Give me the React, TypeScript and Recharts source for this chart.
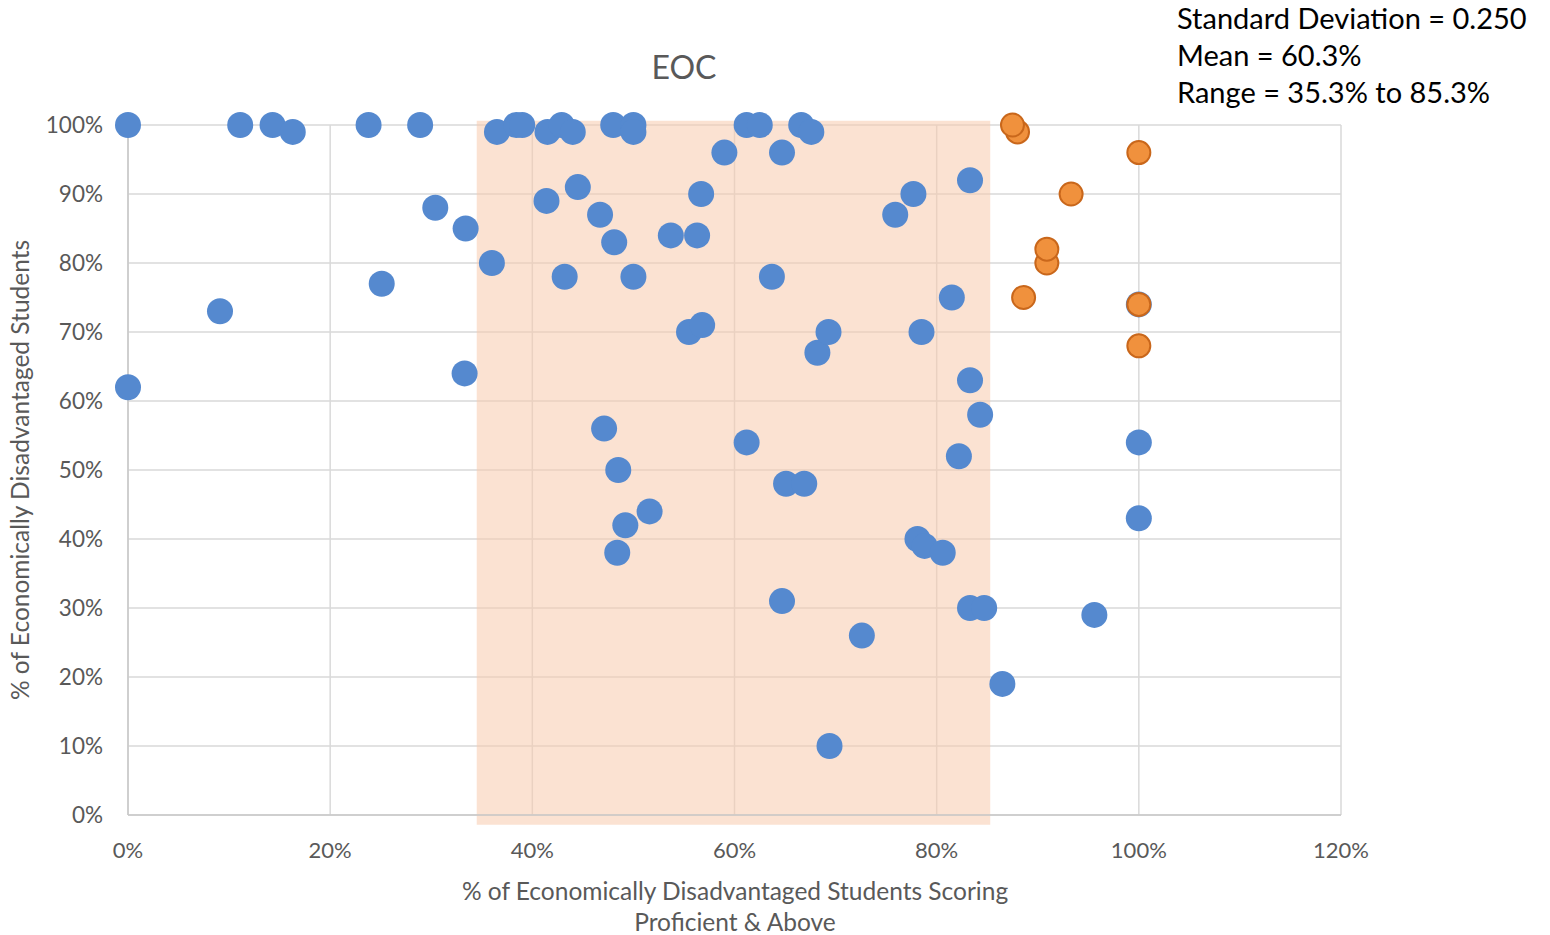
import React from "react";
import {
  CartesianGrid,
  ReferenceArea,
  Scatter,
  ScatterChart,
  XAxis,
  YAxis
} from "recharts";

// % of econ. disadvantaged students scoring proficient & above (x) vs % econ. disadvantaged (y)
const blueProficient = [
  0, 0, 9.1, 11.1, 14.3, 16.3, 23.8, 25.1, 28.9, 30.4, 33.4, 33.3, 36.0, 36.5, 38.4, 39.0,
  41.4, 41.5, 42.9, 43.2, 44.0, 44.5, 46.7, 47.1, 48.0, 48.1, 48.5, 48.4, 49.2, 50.0, 50.0,
  50.0, 51.6, 53.7, 55.5, 56.3, 56.8, 56.7, 59.0, 61.2, 61.2, 62.5, 63.7, 64.7, 64.7, 65.1,
  66.9, 66.6, 67.6, 68.2, 69.3, 69.4, 72.6, 75.9, 77.7, 78.1, 78.5, 78.8, 80.6, 81.5, 82.2,
  83.3, 83.3, 83.3, 84.3, 84.7, 86.5, 95.6, 100, 100, 100
];
const blueDisadvantaged = [
  100, 62, 73, 100, 100, 99, 100, 77, 100, 88, 85, 64, 80, 99, 100, 100,
  89, 99, 100, 78, 99, 91, 87, 56, 100, 83, 50, 38, 42, 100, 99,
  78, 44, 84, 70, 84, 71, 90, 96, 100, 54, 100, 78, 96, 31, 48,
  48, 100, 99, 67, 70, 10, 26, 87, 90, 40, 70, 39, 38, 75, 52,
  92, 63, 30, 58, 30, 19, 29, 74, 54, 43
];

const orangeProficient = [88.0, 87.5, 88.6, 90.9, 90.9, 93.3, 100, 100, 100];
const orangeDisadvantaged = [99, 100, 75, 80, 82, 90, 96, 74, 68];

const xTicks = [0, 20, 40, 60, 80, 100, 120];
const yTicks = [0, 10, 20, 30, 40, 50, 60, 70, 80, 90, 100];

const statLines = ["Standard Deviation = 0.250", "Mean = 60.3%", "Range = 35.3% to 85.3%"];

const blueData = blueProficient.map((x, i) => ({ x, y: blueDisadvantaged[i] }));
const orangeData = orangeProficient.map((x, i) => ({ x, y: orangeDisadvantaged[i] }));

const FONT = "Lato, 'Open Sans', sans-serif";
const GREY = "#595959";

const BlueDot = (props: any) => (
  <circle cx={props.cx} cy={props.cy} r={13} fill="#5589cf" />
);
const OrangeDot = (props: any) => (
  <circle cx={props.cx} cy={props.cy} r={11.5} fill="#f0913d" stroke="#c9671b" strokeWidth={2} />
);

export default function App() {
  return (
    <div style={{ position: "absolute", left: 0, top: 0, width: 1550, height: 935, fontFamily: FONT }}>
      <ScatterChart width={1550} height={935} margin={{ top: 125, right: 209, bottom: 0, left: 0 }}>
        <ReferenceArea
          x1={34.5}
          x2={85.3}
          y1={-1.4}
          y2={100.6}
          ifOverflow="visible"
          fill="#f8cbad"
          fillOpacity={0.55}
          stroke="none"
        />
        <CartesianGrid stroke="#d9d9d9" strokeWidth={1.5} />
        <XAxis
          type="number"
          dataKey="x"
          domain={[0, 120]}
          ticks={xTicks}
          tickFormatter={(v) => `${v}%`}
          tickLine={false}
          tickSize={0}
          tickMargin={27}
          axisLine={{ stroke: "#c8c8c8", strokeWidth: 1.5 }}
          tick={{ fill: GREY, fontSize: 22, fontFamily: FONT }}
          height={120}
        />
        <YAxis
          type="number"
          dataKey="y"
          domain={[0, 100]}
          ticks={yTicks}
          tickFormatter={(v) => `${v}%`}
          tickLine={false}
          tickSize={0}
          tickMargin={25}
          axisLine={{ stroke: "#c8c8c8", strokeWidth: 1.5 }}
          tick={{ fill: GREY, fontSize: 22.5, fontFamily: FONT }}
          width={128}
        />
        <Scatter data={blueData} shape={BlueDot} isAnimationActive={false} />
        <Scatter data={orangeData} shape={OrangeDot} isAnimationActive={false} />
      </ScatterChart>

      <div
        style={{
          position: "absolute",
          left: 584,
          width: 200,
          top: 45,
          textAlign: "center",
          fontSize: 32,
          color: GREY,
          lineHeight: "44px"
        }}
      >
        EOC
      </div>

      <div style={{ position: "absolute", left: 1177, top: -1, fontSize: 29, color: "#000", lineHeight: "37px" }}>
        {statLines.map((s) => (
          <div key={s} style={{ whiteSpace: "nowrap" }}>{s}</div>
        ))}
      </div>

      <div
        style={{
          position: "absolute",
          left: 335,
          width: 800,
          top: 875,
          textAlign: "center",
          fontSize: 24.5,
          color: GREY,
          lineHeight: "31px"
        }}
      >
        % of Economically Disadvantaged Students Scoring
        <br />
        Proficient &amp; Above
      </div>

      <div
        style={{
          position: "absolute",
          left: 20,
          top: 470,
          width: 600,
          textAlign: "center",
          fontSize: 24.5,
          color: GREY,
          lineHeight: "30px",
          whiteSpace: "nowrap",
          transform: "translate(-50%, -50%) rotate(-90deg)"
        }}
      >
        % of Economically Disadvantaged Students
      </div>
    </div>
  );
}
